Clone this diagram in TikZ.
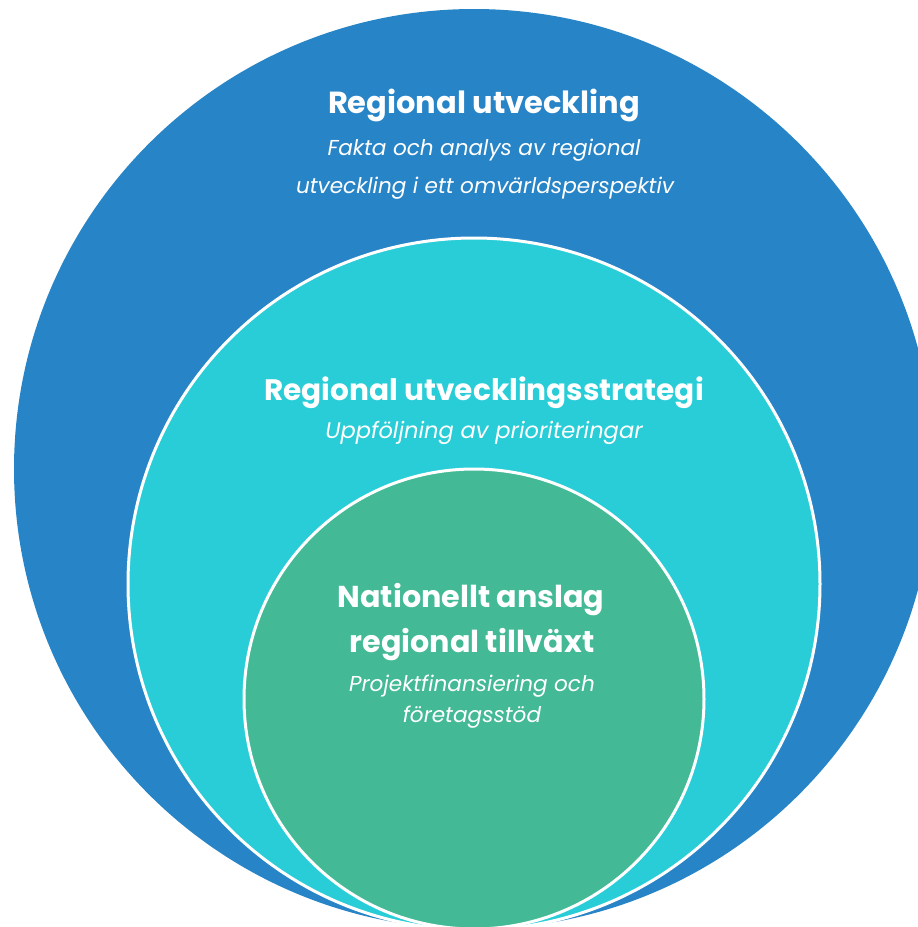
\documentclass[tikz,border=0pt]{standalone}
\usepackage{fontspec}
\setmainfont{Poppins}
\usetikzlibrary{positioning}
\definecolor{outerblue}{RGB}{39,132,199}
\definecolor{stratcyan}{RGB}{41,205,215}
\definecolor{fundgreen}{RGB}{67,185,149}

\begin{document}
\begin{tikzpicture}[x=1pt,y=-1pt]
\tikzstyle{ring}=[circle,inner sep=0pt,draw=white,line width=3pt]
\tikzstyle{head}=[text=white,anchor=base,inner sep=0pt,font=\bfseries\fontsize{29.6}{36}\selectfont]
\tikzstyle{sub}=[text=white,anchor=base,inner sep=0pt,font=\itshape\fontsize{21.6}{26}\selectfont]
\useasboundingbox (0,0) rectangle (918,927);
\clip (0,0) rectangle (918,927);
% the three circles, all touching at the bottom
\node[ring,draw=none,fill=outerblue,minimum size=920pt] at(474, 469) (outer) {};
\node[ring,fill=stratcyan,minimum size=692pt] at(474, 584) (strategy) {};
\node[ring,fill=fundgreen,minimum size=460pt] at(474, 699) (grant) {};
% labels
\node[head,font=\bfseries\fontsize{30.5}{36}\selectfont] at(484, 113) (outerT) {Regional utveckling};
\node[sub] at(484, 155) (outerA) {Fakta och analys av regional};
\node[sub] at(485, 193) (outerB) {utveckling i ett omvärldsperspektiv};
\node[head] at(484, 400) (stratT) {Regional utvecklingsstrategi};
\node[sub,font=\itshape\fontsize{22.6}{26}\selectfont] at(484, 438) (stratA) {Uppföljning av prioriteringar};
\node[head,font=\bfseries\fontsize{30.2}{36}\selectfont] at(471, 607) (grantT) {Nationellt anslag};
\node[head,font=\bfseries\fontsize{30.2}{36}\selectfont] at(472, 652) (grantU) {regional tillväxt};
\node[sub] at(472, 691) (grantA) {Projektfinansiering och};
\node[sub] at(472, 722) (grantB) {företagsstöd};
\end{tikzpicture}
\end{document}
